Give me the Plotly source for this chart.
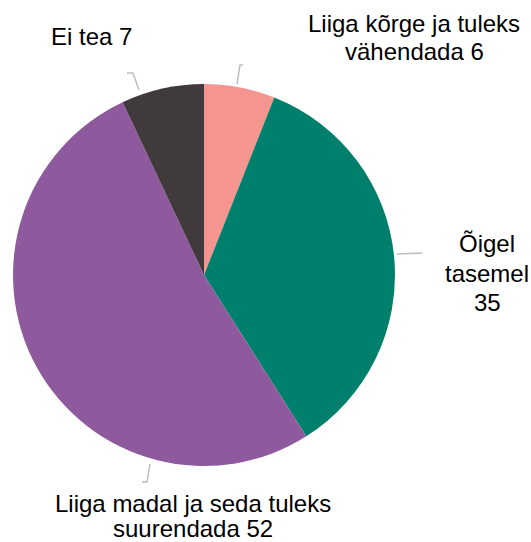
import plotly.graph_objects as go

W, H = 531, 542

labels = ["Liiga kõrge ja tuleks vähendada", "Õigel tasemel", "Liiga madal ja seda tuleks suurendada", "Ei tea"]
values = [6, 35, 52, 7]
colors = ["#F4968F", "#00806C", "#8E5A9D", "#403A3D"]

# how each label is broken into lines for display
label_lines = [
    ["Liiga kõrge ja tuleks", "vähendada {v}"],
    ["Õigel", "tasemel", "{v}"],
    ["Liiga madal ja seda tuleks", "suurendada {v}"],
    ["Ei tea {v}"],
]
# label placement in pixels: (x center, first baseline, line step)
label_pos = [(414, 32, 28), (487, 252.5, 29.5), (193, 512, 25.5), (91, 45, 28)]
# leader line paths in pixels
leaders = [
    [(243, 65), (240, 65), (237, 84)],
    [(397, 254), (422, 253)],
    [(150, 464), (147, 482), (142, 482)],
    [(127, 73), (133, 73), (139, 90)],
]

FS = 24

fig = go.Figure(go.Pie(
    labels=labels,
    values=values,
    sort=False,
    direction="clockwise",
    rotation=0,
    marker=dict(colors=colors, line=dict(width=0)),
    textinfo="none",
    hoverinfo="label+value",
    showlegend=False,
    domain=dict(x=[13 / W, 395 / W], y=[76 / H, 458 / H]),
))

def px(x, y):
    return x / W, 1 - y / H

annotations = []
for lines, v, (x, y0, step) in zip(label_lines, values, label_pos):
    for i, ln in enumerate(lines):
        ax, ay = px(x, y0 + i * step - 0.36 * FS)
        annotations.append(dict(
            text=ln.format(v=v),
            x=ax, y=ay, xref="paper", yref="paper",
            xanchor="center", yanchor="middle",
            showarrow=False, align="center", borderpad=0,
            font=dict(family="Liberation Sans, Arial", size=FS, color="#000000"),
        ))

shapes = []
for pts in leaders:
    path = ""
    for i, (x, y) in enumerate(pts):
        a, b = px(x, y)
        path += ("M" if i == 0 else "L") + f" {a} {b} "
    shapes.append(dict(type="path", path=path, xref="paper", yref="paper",
                       line=dict(color="#BDBDBD", width=1.5)))

fig.update_layout(
    width=W, height=H,
    margin=dict(l=0, r=0, t=0, b=0),
    paper_bgcolor="white", plot_bgcolor="white",
    annotations=annotations,
    shapes=shapes,
)

fig.write_html("out.html", config={"displayModeBar": False},
               post_script="document.body.style.margin='0px';document.body.style.overflow='hidden';")
